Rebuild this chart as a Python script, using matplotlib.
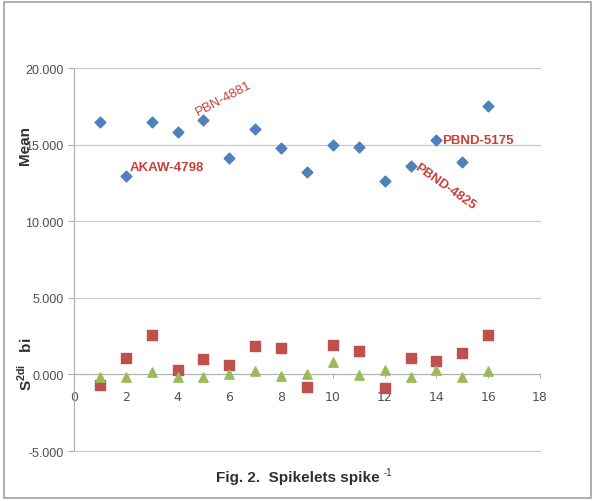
import matplotlib.pyplot as plt
from matplotlib.patches import Rectangle
import numpy as np

genotypes = np.arange(1, 17)
mean_values = [16.5, 12.95, 16.5, 15.85, 16.6, 14.1, 16.05, 14.75,
               13.2, 14.95, 14.85, 12.65, 13.6, 15.3, 13.85, 17.5]
s2di_values = [-0.7, 1.1, 2.55, 0.3, 1.0, 0.6, 1.85, 1.7,
               -0.8, 1.9, 1.5, -0.9, 1.1, 0.9, 1.4, 2.55]
bi_values = [-0.2, -0.17, 0.17, -0.17, -0.15, 0.04, 0.2, -0.13,
             0.0, 0.78, -0.04, 0.3, -0.17, 0.3, -0.2, 0.2]

labels = {2: "AKAW-4798", 5: "PBN-4881", 13: "PBND-4825", 14: "PBND-5175"}

BLUE = "#4F81BD"
RED = "#C0504D"
GREEN = "#9BBB59"
TEXT_RED = "#C8403A"
FONT = "Liberation Sans"

fig = plt.figure(figsize=(5.95, 5.02), dpi=100)
ax = fig.add_axes([0.1244, 0.0996, 0.7832, 0.7629])

ax.scatter(genotypes, mean_values, marker="D", s=30, color=BLUE, zorder=3)
ax.scatter(genotypes, s2di_values, marker="s", s=50, color=RED, zorder=3)
ax.scatter(genotypes, bi_values, marker="^", s=45, color=GREEN, zorder=4)

ax.set_xlim(0, 18)
ax.set_ylim(-5, 20)
ax.set_xticks(np.arange(0, 19, 2))
ax.set_yticks(np.arange(-5, 21, 5))
ax.set_yticklabels([f"{v:.3f}" for v in np.arange(-5, 21, 5)])
for lab in ax.get_xticklabels() + ax.get_yticklabels():
    lab.set_family(FONT)

ax.grid(axis="y", color="#C8C8C8", linewidth=0.8)
for line in ax.get_ygridlines():
    line.set_clip_on(False)
ax.set_axisbelow(True)
for side in ["top", "right"]:
    ax.spines[side].set_visible(False)
ax.spines["left"].set_color("#B0B0B0")
ax.spines["bottom"].set_color("#B0B0B0")
ax.spines["bottom"].set_position(("data", 0))
ax.tick_params(axis="both", colors="#B0B0B0", labelcolor="#505050",
               labelsize=9, length=4)
ax.tick_params(axis="x", length=3, pad=8)

# genotype names
ax.text(2.15, 13.15, labels[2], color=TEXT_RED, fontsize=9.5, fontweight="bold",
        va="bottom", ha="left", family=FONT)
ax.text(4.85, 16.75, labels[5], color=TEXT_RED, fontsize=9.5, rotation=28,
        va="bottom", ha="left", rotation_mode="anchor", family=FONT)
ax.text(13.2, 13.65, labels[13], color=TEXT_RED, fontsize=9.5, fontweight="bold",
        rotation=-35, va="center", ha="left", rotation_mode="anchor", family=FONT)
ax.text(14.2, 15.3, labels[14], color=TEXT_RED, fontsize=9.5, fontweight="bold",
        va="center", ha="left", family=FONT)

fig.text(0.042, 0.71, "Mean", rotation=90, fontsize=11, fontweight="bold",
         ha="center", va="center", color="#303030", family=FONT)
fig.text(0.042, 0.275, r"S$^{\mathregular{2di}}$   bi", rotation=90, fontsize=11,
         fontweight="bold", ha="center", va="center", color="#303030", family=FONT)

fig.text(0.5, 0.048, "Fig. 2.  Spikelets spike",
         ha="center", va="center", fontsize=11, fontweight="bold",
         family=FONT, color="#303030")
fig.text(0.645, 0.058, "-1", ha="left", va="center", fontsize=7,
         family=FONT, color="#303030")

fig.patches.append(Rectangle((0.006, 0.006), 0.988, 0.988, transform=fig.transFigure,
                             fill=False, edgecolor="#A0A0A0", linewidth=1.2))

fig.savefig("out.png", dpi=100)
